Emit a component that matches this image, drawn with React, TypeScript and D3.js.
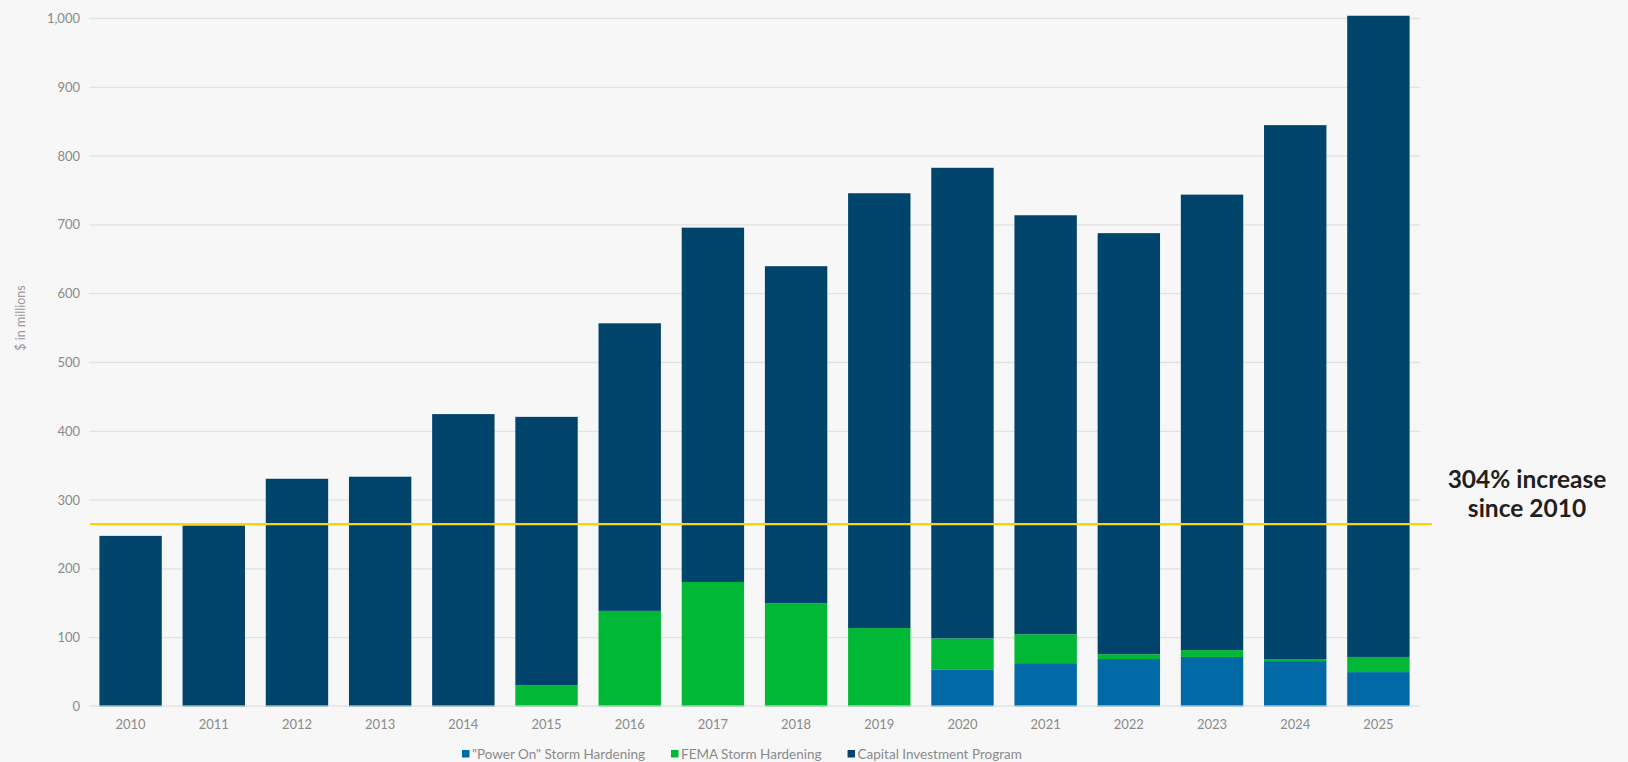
import React, { useEffect, useRef } from "react";
import * as d3 from "d3";

const years = ["2010","2011","2012","2013","2014","2015","2016","2017","2018","2019","2020","2021","2022","2023","2024","2025"];
const powerOn = [0,0,0,0,0,0,0,0,0,0,54,63,69,72,66,50];
const fema = [0,0,0,0,0,31,139,181,150,114,45,42,7,10,3,22];
const capital = [248,263,331,334,425,390,418,515,490,632,684,609,612,662,776,932];
const yTicks = [0,100,200,300,400,500,600,700,800,900,1000];
const seriesNames = ["\"Power On\" Storm Hardening", "FEMA Storm Hardening", "Capital Investment Program"];
const seriesColors = ["#0069a6", "#00b836", "#00446c"];
const referenceLevel = 265;
const annotationLines = ["304% increase", "since 2010"];

const W = 1628, H = 762;
const FONT = "Lato, 'Open Sans', sans-serif";

export default function App() {
  const ref = useRef<SVGSVGElement>(null);
  useEffect(() => {
    document.body.style.margin = "0";
    document.body.style.background = "#f7f7f7";
    const svg = d3.select(ref.current);
    svg.selectAll("*").remove();

    const left = 89, right = 1420, top = 18.5, bottom = 706.5;
    const x = d3.scaleBand<string>().domain(years).range([left, right]).paddingInner(0.25).paddingOuter(0.125);
    const y = d3.scaleLinear().domain([0, 1000]).range([bottom, top]);

    svg.append("rect").attr("width", W).attr("height", H).attr("fill", "#f7f7f7");

    // gridlines
    svg.append("g").selectAll("line").data(yTicks.filter(t => t > 0)).join("line")
      .attr("x1", left).attr("x2", right)
      .attr("y1", d => y(d)).attr("y2", d => y(d))
      .attr("stroke", "#e2e2e2").attr("stroke-width", 1.3);

    // y tick labels
    svg.append("g").selectAll("text").data(yTicks).join("text")
      .attr("x", 80).attr("y", d => y(d)).attr("dy", "0.35em")
      .attr("text-anchor", "end").attr("font-family", FONT).attr("font-size", 13)
      .attr("fill", "#8a8a8a").text(d => d3.format(",")(d));

    // y axis title
    svg.append("text").attr("transform", `translate(25,318) rotate(-90)`)
      .attr("text-anchor", "middle").attr("font-family", FONT).attr("font-size", 12.5)
      .attr("fill", "#999").text("$ in millions");

    // stacked bars
    const rows = years.map((yr, i) => ({ year: yr, p: powerOn[i], f: fema[i], c: capital[i] }));
    const stack = d3.stack<any>().keys(["p", "f", "c"])(rows);
    svg.append("g").selectAll("g").data(stack).join("g")
      .attr("fill", (_d, i) => seriesColors[i])
      .selectAll("rect").data(d => d).join("rect")
      .attr("x", d => x(d.data.year)!)
      .attr("width", x.bandwidth())
      .attr("y", d => y(d[1]))
      .attr("height", d => Math.max(0, y(d[0]) - y(d[1])));

    // baseline
    svg.append("line").attr("x1", left).attr("x2", right).attr("y1", y(0) - 0.5).attr("y2", y(0) - 0.5)
      .attr("stroke", "#dcdcdc").attr("stroke-width", 2).attr("opacity", 0.55);

    // x labels
    svg.append("g").selectAll("text").data(years).join("text")
      .attr("x", d => x(d)! + x.bandwidth() / 2).attr("y", 729)
      .attr("text-anchor", "middle").attr("font-family", FONT).attr("font-size", 13)
      .attr("fill", "#8a8a8a").text(d => d);

    // reference line
    svg.append("line").attr("x1", 90).attr("x2", 1432)
      .attr("y1", y(referenceLevel)).attr("y2", y(referenceLevel))
      .attr("stroke", "#ffd200").attr("stroke-width", 2.2);

    // annotation
    svg.append("g").selectAll("text").data(annotationLines).join("text")
      .attr("x", 1527).attr("y", (_d, i) => 488 + i * 29)
      .attr("text-anchor", "middle").attr("font-family", FONT).attr("font-weight", 700)
      .attr("font-size", 24.5).attr("fill", "#231f20").text(d => d);

    // legend
    const lg = svg.append("g");
    let cx = 462;
    seriesNames.forEach((name, i) => {
      lg.append("rect").attr("x", cx).attr("y", 750).attr("width", 7.5).attr("height", 7.5).attr("fill", seriesColors[i]);
      const t = lg.append("text").attr("x", cx + 10).attr("y", 759)
        .attr("font-family", FONT).attr("font-size", 13.5).attr("fill", "#8a8a8a").text(name);
      const w = (t.node() as SVGTextElement).getComputedTextLength();
      cx = cx + 10 + w + 26;
    });
  }, []);
  return <svg ref={ref} width={W} height={H} style={{ display: "block" }} />;
}
